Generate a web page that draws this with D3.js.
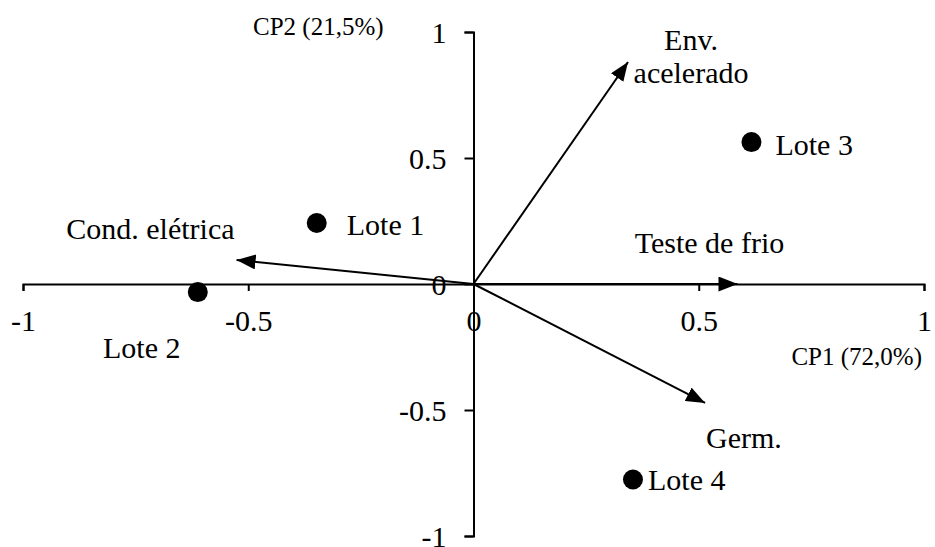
<!DOCTYPE html>
<html>
<head>
<meta charset="utf-8">
<script src="https://cdn.jsdelivr.net/npm/d3@7"></script>
<style>
  body { margin: 0; background: #fff; }
  svg text { font-family: "Liberation Serif", "Times New Roman", serif; fill: #000; }
</style>
</head>
<body>
<div id="chart"></div>
<script>
// lots (scores) and variables (loadings)
var lotNames = ["Lote 1", "Lote 2", "Lote 3", "Lote 4"];
var lotCP1 = [-0.348, -0.612, 0.617, 0.354];
var lotCP2 = [0.242, -0.032, 0.563, -0.776];

var varNames = ["Env. acelerado", "Teste de frio", "Germ.", "Cond. elétrica"];
var varCP1 = [0.343, 0.586, 0.514, -0.526];
var varCP2 = [0.881, 0.0, -0.472, 0.095];

var tickValues = [-1, -0.5, 0, 0.5, 1];

var width = 935;
var height = 547;

var xScale = d3.scaleLinear().domain([-1, 1]).range([23, 924]);
var yScale = d3.scaleLinear().domain([-1, 1]).range([536, 32]);

// label placement (px, relative to point / arrow tip)
var lotLabelPos = {
  "Lote 1": { dx: 30, dy: 12, anchor: "start" },
  "Lote 2": { dx: -56, dy: 66, anchor: "middle" },
  "Lote 3": { dx: 24, dy: 13, anchor: "start" },
  "Lote 4": { dx: 15, dy: 10, anchor: "start" }
};
var varLabelPos = {
  "Env. acelerado": { dx: 63, dy: -12, anchor: "middle" },
  "Teste de frio": { dx: -28, dy: -31, anchor: "middle" },
  "Germ.": { dx: 1, dy: 45, anchor: "start" },
  "Cond. elétrica": { dx: -2, dy: -21, anchor: "end" }
};

var svg = d3
  .select("#chart")
  .append("svg")
  .attr("width", width)
  .attr("height", height);

svg
  .append("defs")
  .append("marker")
  .attr("id", "arrow")
  .attr("markerUnits", "userSpaceOnUse")
  .attr("viewBox", "0 0 19 15")
  .attr("refX", 19)
  .attr("refY", 7.5)
  .attr("markerWidth", 19)
  .attr("markerHeight", 15)
  .attr("orient", "auto")
  .append("path")
  .attr("d", "M0,0L19,7.5L0,15Z")
  .attr("fill", "#000");

// x axis through y = 0
var xAxis = d3
  .axisBottom(xScale)
  .tickValues(tickValues)
  .tickSize(7)
  .tickPadding(19)
  .tickFormat(function(d) {
    return String(d);
  });

var gx = svg
  .append("g")
  .attr("transform", "translate(0," + yScale(0) + ")")
  .call(xAxis);

// y axis through x = 0
var yAxis = d3
  .axisLeft(yScale)
  .tickValues(tickValues)
  .tickSize(9)
  .tickPadding(18)
  .tickFormat(function(d) {
    return String(d);
  });

var gy = svg
  .append("g")
  .attr("transform", "translate(" + xScale(0) + ",0)")
  .call(yAxis);

[gx, gy].forEach(function(g) {
  g.select(".domain").attr("stroke", "#000").attr("stroke-width", 2);
  g.selectAll(".tick line").attr("stroke", "#000").attr("stroke-width", 2);
  g.selectAll(".tick text")
    .attr("font-family", "Liberation Serif")
    .attr("font-size", 30)
    .attr("fill", "#000");
});
gy.selectAll(".tick text").attr("dy", "0.34em");

// axis titles
svg
  .append("text")
  .attr("x", 253)
  .attr("y", 35)
  .attr("font-size", 25)
  .text("CP2 (21,5%)");

svg
  .append("text")
  .attr("x", 922)
  .attr("y", 365)
  .attr("text-anchor", "end")
  .attr("font-size", 25)
  .text("CP1 (72,0%)");

// variable vectors
var vars = varNames.map(function(n, i) {
  return { name: n, x: varCP1[i], y: varCP2[i] };
});

svg
  .selectAll("line.vector")
  .data(vars)
  .enter()
  .append("line")
  .attr("class", "vector")
  .attr("x1", xScale(0))
  .attr("y1", yScale(0))
  .attr("x2", function(d) {
    return xScale(d.x);
  })
  .attr("y2", function(d) {
    return yScale(d.y);
  })
  .attr("stroke", "#000")
  .attr("stroke-width", 2)
  .attr("marker-end", "url(#arrow)");

svg
  .selectAll("text.varLabel")
  .data(vars)
  .enter()
  .append("text")
  .attr("class", "varLabel")
  .attr("font-size", 30)
  .attr("text-anchor", function(d) {
    return varLabelPos[d.name].anchor;
  })
  .each(function(d) {
    var p = varLabelPos[d.name];
    var x = xScale(d.x) + p.dx;
    var y = yScale(d.y) + p.dy;
    var el = d3.select(this);
    if (d.name === "Env. acelerado") {
      el.append("tspan").attr("x", x).attr("y", y).text("Env.");
      el.append("tspan").attr("x", x).attr("y", y + 33).text("acelerado");
    } else {
      el.attr("x", x).attr("y", y).text(d.name);
    }
  });

// lots
var lots = lotNames.map(function(n, i) {
  return { name: n, x: lotCP1[i], y: lotCP2[i] };
});

svg
  .selectAll("circle.lot")
  .data(lots)
  .enter()
  .append("circle")
  .attr("class", "lot")
  .attr("cx", function(d) {
    return xScale(d.x);
  })
  .attr("cy", function(d) {
    return yScale(d.y);
  })
  .attr("r", 10)
  .attr("fill", "#000");

svg
  .selectAll("text.lotLabel")
  .data(lots)
  .enter()
  .append("text")
  .attr("class", "lotLabel")
  .attr("font-size", 30)
  .attr("text-anchor", function(d) {
    return lotLabelPos[d.name].anchor;
  })
  .attr("x", function(d) {
    return xScale(d.x) + lotLabelPos[d.name].dx;
  })
  .attr("y", function(d) {
    return yScale(d.y) + lotLabelPos[d.name].dy;
  })
  .text(function(d) {
    return d.name;
  });
</script>
</body>
</html>
